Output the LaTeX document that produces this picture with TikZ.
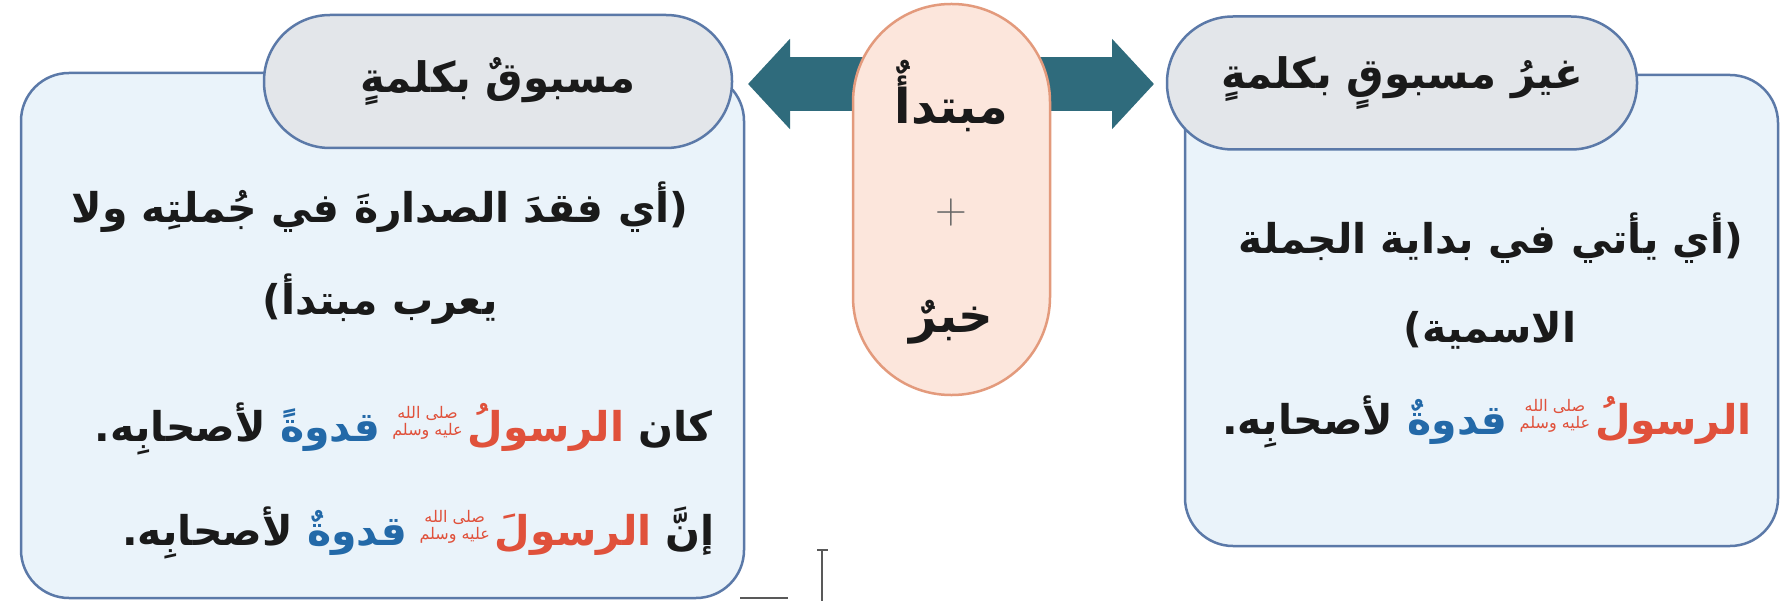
\documentclass[tikz,border=0pt]{standalone}
\usepackage{fontspec}
\newfontfamily\ar[Script=Arabic]{DejaVu Sans}
\TeXXeTstate=1
\usetikzlibrary{backgrounds,arrows.meta}
\definecolor{boxfill}{HTML}{EAF3FA}
\definecolor{boxline}{HTML}{5B79A8}
\definecolor{tabfill}{HTML}{E3E6EA}
\definecolor{arrowcol}{HTML}{2F6B7C}
\definecolor{pillfill}{HTML}{FCE6DC}
\definecolor{pillline}{HTML}{E39A7C}
\definecolor{txt}{HTML}{1A1A1A}
\definecolor{redw}{HTML}{E0513B}
\definecolor{bluew}{HTML}{2369A8}
% plain right-to-left text (one colour)
\newcommand{\AR}[1]{{\ar\bfseries\beginR #1\endR}}
% words given in visual order, left to right (for lines with coloured words)
\newcommand{\VIS}[1]{{\ar\bfseries #1}}
\newcommand{\rd}[1]{\hbox{\color{redw}#1}}
\newcommand{\bl}[1]{\hbox{\color{bluew}#1}}
% the honorific (salla Allahu alayhi wa sallam), set small in two lines
\newcommand{\saw}{\hbox{\color{redw}\raisebox{6pt}{\fontsize{16}{16}\selectfont\ar\mdseries
  \shortstack{\beginR صلى الله\endR\\\beginR عليه وسلم\endR}}}\hspace{5pt}}
\begin{document}
\begin{tikzpicture}[x=1pt,y=-1pt,
  bigbox/.style={draw=boxline,fill=boxfill,line width=2.5pt,rounded corners=48pt,inner sep=0pt,outer sep=0pt},
  tabbox/.style={draw=boxline,fill=tabfill,line width=2.5pt,rounded corners=66pt,minimum height=133pt,inner sep=0pt,outer sep=0pt,text=txt,font=\fontsize{42}{48}\selectfont},
  pillbox/.style={draw=pillline,fill=pillfill,line width=2.5pt,rounded corners=98pt,minimum width=197pt,minimum height=391pt,inner sep=0pt,outer sep=0pt},
  pilltext/.style={text=txt,inner sep=0pt,font=\fontsize{48}{54}\selectfont},
  bodytext/.style={text=txt,inner sep=0pt,font=\fontsize{41}{47}\selectfont},
  blockarrow/.style={draw=arrowcol,line width=54pt,-{Triangle[length=42pt,width=88pt]}},
  cutline/.style={draw=black!65,line width=1.5pt}]
\useasboundingbox (0,0) rectangle (1784,601);
% boxes
\node[bigbox,minimum width=723pt,minimum height=525pt] (lbox) at (382.5,335.5) {};
\node[bigbox,minimum width=593pt,minimum height=471pt] (rbox) at (1481.5,310.5) {};
\node[tabbox,minimum width=468pt] (ltab) at (498,81.5) {\AR{مسبوقٌ بكلمةٍ}};
\node[tabbox,minimum width=470pt] (rtab) at (1402,83) {\AR{غيرُ مسبوقٍ بكلمةٍ}};
% centre pill
\node[pillbox] (pill) at (951.5,199.5) {};
\node[pilltext] (mub) at (951.5,96) {\AR{مبتدأٌ}};
\node[text=black!60,inner sep=0pt,font=\fontsize{44}{48}\selectfont] (plus) at (951.5,213) {+};
\node[pilltext] (khb) at (951.5,322) {\AR{خبرٌ}};
\coordinate (ay) at (0,84);
% arrows behind the pill
\begin{scope}[on background layer]
\fill[white] (0,0) rectangle (1784,601);
\draw[blockarrow] (pill.center |- ay) -- ([xshift=16pt]ltab.east |- ay);
\draw[blockarrow] (pill.center |- ay) -- ([xshift=-13pt]rtab.west |- ay);
\end{scope}
% left body
\node[bodytext] (l1) at (380,207) {\AR{(أي فقدَ الصدارةَ في جُملتِه ولا}};
\node[bodytext] (l2) at (380,299) {\AR{يعرب مبتدأ)}};
\node[bodytext,anchor=east] (l3) at (713,429)
  {\VIS{\hbox{.}\hbox{لأصحابِه} \bl{قدوةً}\hspace{12pt}\saw\rd{الرسولُ} \hbox{كان}}};
\node[bodytext,anchor=east] (l4) at (715,533)
  {\VIS{\hbox{.}\hbox{لأصحابِه} \bl{قدوةٌ}\hspace{12pt}\saw\rd{الرسولَ} \hbox{إنَّ}}};
% right body
\node[bodytext] (r1) at (1491,238) {\AR{(أي يأتي في بداية الجملة}};
\node[bodytext] (r2) at (1490,330) {\AR{الاسمية)}};
\node[bodytext] (r3) at (1487,422)
  {\VIS{\hbox{.}\hbox{لأصحابِه} \bl{قدوةٌ}\hspace{12pt}\saw\rd{الرسولُ}}};
% cut-off marks at the bottom edge
\draw[cutline] (822,550) -- (822,601);
\draw[cutline] (817,550) -- (828,550);
\draw[cutline] (740,598) -- (788,598);
\end{tikzpicture}
\end{document}
